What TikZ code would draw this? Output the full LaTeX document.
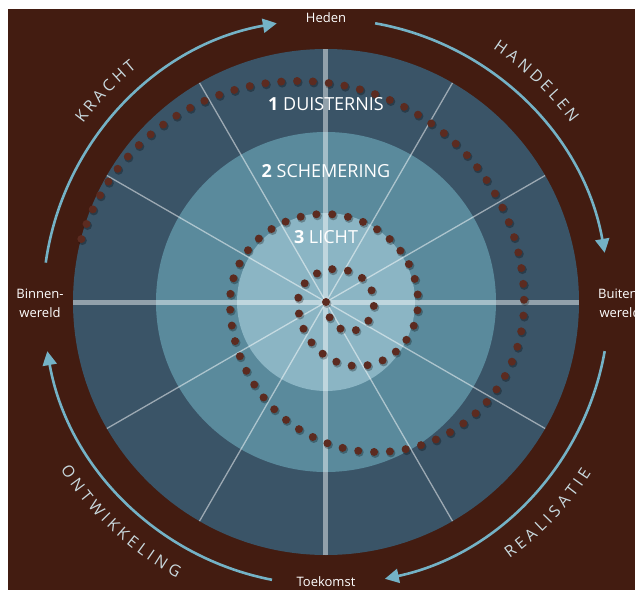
\documentclass[tikz,border=0pt]{standalone}
\usepackage{fontspec}
\setmainfont{Open Sans}
\usetikzlibrary{arrows.meta,decorations.markings}
\definecolor{bgbrown}{HTML}{431C11}
\definecolor{darkzone}{HTML}{3A5467}
\definecolor{midzone}{HTML}{5A8A9C}
\definecolor{lightzone}{HTML}{8BB5C4}
\definecolor{ringblue}{HTML}{74B2C6}
\definecolor{dotbrown}{HTML}{5C2B20}
\definecolor{lblcol}{HTML}{C9D9DE}
% #1 name, #2 centre angle, #3 radius, #4 direction (-1 top, 1 bottom), #5 letter/width list
\newcommand\ringword[5]{%
  \xdef\rwtot{0}%
  \foreach \ch/\w in {#5} {\pgfmathsetmacro\rwt{\rwtot+\w*16+3.6}\xdef\rwtot{\rwt}}%
  \pgfmathsetmacro\rwlen{\rwtot-3.6}\xdef\rwlen{\rwlen}%
  \xdef\rwpos{0}%
  \foreach \ch/\w [count=\i] in {#5} {%
    \pgfmathsetmacro\rwc{\rwpos+\w*8}%
    \pgfmathsetmacro\ang{#2+(#4)*(\rwc-\rwlen/2)/#3*57.2958}%
    \node[ringletter, rotate={\ang+(#4)*90}] (#1\i) at (\ang:#3) {\ch};%
    \pgfmathsetmacro\rwt{\rwpos+\w*16+3.6}\xdef\rwpos{\rwt}}%
}
\begin{document}
\begin{tikzpicture}[x=1pt,y=1pt,
  ringarrow/.style={draw=ringblue, line width=2.6pt, -{Triangle[length=14pt,width=14pt]}},
  thinspoke/.style={draw=white, draw opacity=0.5, line width=1.3pt},
  thickspoke/.style={draw=white, draw opacity=0.45, line width=5pt},
  zone/.style={font=\fontsize{18}{21}\selectfont, text=white, inner sep=0pt},
  pole/.style={font=\fontsize{13}{19}\selectfont, text=white, align=center, inner sep=0pt},
  ringletter/.style={font=\fontsize{16}{16}\selectfont, text=lblcol, inner sep=0pt},
]
\useasboundingbox (-326,-288) rectangle (309,302);
\clip (-326,-288) rectangle (309,302);
\fill[white] (-326,-288) rectangle (309,302);
\fill[bgbrown] (-318,-288) rectangle (309,293);
% zones
\fill[darkzone] (0,0) circle (253);
\fill[midzone] (0,0) circle (170);
\fill[lightzone] (0,0) circle (89);
% spokes
\foreach \a in {30,60,120,150,210,240,300,330} \draw[thinspoke] (0,0) -- (\a:253);
\draw[thickspoke] (-253,0) -- (253,0) (0,-253) -- (0,253);
% spiral of dots
\path[decorate, decoration={markings, mark=between positions 0 and 1 step 15.9pt with {\pgftransformresetnontranslations
   \fill[black,opacity=0.28] (1,-1.5) circle (4.5);
   \fill[dotbrown] (0,0) circle (4);}}]
 (0,0) arc[start angle=180,end angle=360,x radius=24,y radius=29]
 arc[start angle=0,end angle=180,x radius=38,y radius=33]
 arc[start angle=180,end angle=360,x radius=60,y radius=64]
 arc[start angle=0,end angle=180,x radius=94,y radius=88]
 arc[start angle=180,end angle=360,x radius=147,y radius=150]
 arc[start angle=0,end angle=166,x radius=226,y radius=221];
% zone labels
\node[zone] (z1) at (0,198) {{\bfseries 1} DUISTERNIS};
\node[zone] (z2) at (0,131) {{\bfseries 2} SCHEMERING};
\node[zone] (z3) at (0,65) {{\bfseries 3} LICHT};
% ring arrows
\coordinate (trs) at (80:283);
\coordinate (brs) at (-10:283);
\coordinate (bls) at (259:283);
\coordinate (tls) at (172:283);
\draw[ringarrow] (trs) arc[start angle=80,end angle=10,radius=283];
\draw[ringarrow] (brs) arc[start angle=-10,end angle=-78,radius=283];
\draw[ringarrow] (bls) arc[start angle=259,end angle=190,radius=283];
\draw[ringarrow] (tls) arc[start angle=172,end angle=100,radius=283];
% pole labels
\node[pole] (heden) at (0,284) {Heden};
\node[pole] (toekomst) at (0,-280) {Toekomst};
\node[pole] (binnen) at (-286,-1) {Binnen-\\wereld};
\node[pole] (buiten) at (294,-1) {Buiten-\\wereld};
% ring words
\ringword{kr}{136.3}{307}{-1}{K/.59,R/.62,A/.66,C/.63,H/.75,T/.56}
\ringword{ha}{46.35}{309}{-1}{H/.75,A/.66,N/.78,D/.73,E/.55,L/.53,E/.55,N/.78}
\ringword{on}{226.9}{308}{1}{O/.79,N/.78,T/.56,W/.94,I/.30,K/.59,K/.59,E/.55,L/.53,I/.30,N/.78,G/.72}
\ringword{re}{316.35}{310}{1}{R/.62,E/.55,A/.66,L/.53,I/.30,S/.55,A/.66,T/.56,I/.30,E/.55}
\end{tikzpicture}
\end{document}
